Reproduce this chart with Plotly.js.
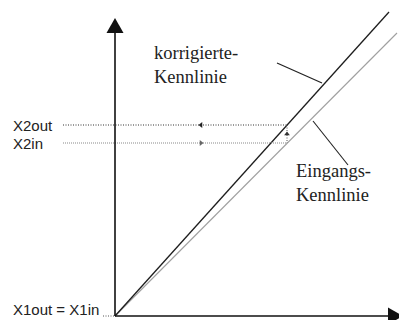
<!DOCTYPE html>
<html>
<head>
<meta charset="utf-8">
<script src="https://cdn.plot.ly/plotly-3.0.1.min.js"></script>
<style>html,body{margin:0;padding:0;background:#fff;}#chart{width:399px;height:320px;}</style>
</head>
<body>
<div id="chart"></div>
<script>
// Input characteristic (Eingangs-Kennlinie)
const eingangX = [0, 282];
const eingangY = [0, 283];
// Corrected characteristic (korrigierte Kennlinie)
const korrX = [0, 274];
const korrY = [0, 304];
// Level labels on the y axis and their values
const levelLabels = ['X2out', 'X2in', 'X1out = X1in'];
const levelValues = [191, 173, 0];
const levelInputX = [172, 172, 0];
// Curve labels
const curveLabels = ['korrigierte-<br>Kennlinie', 'Eingangs-<br>Kennlinie'];

const AX_TOP = 298, AX_RIGHT = 288, HEAD = 15, HALF = 8.5;
const labelX = -104, dotStart = -52;

const traces = [
  {x: eingangX, y: eingangY, mode: 'lines', line: {color: '#a0a0a0', width: 1.1}, hoverinfo: 'skip'},
  {x: korrX, y: korrY, mode: 'lines', line: {color: '#1e1e1e', width: 1.3}, hoverinfo: 'skip'},
  // dotted guides
  {x: [dotStart, levelInputX[0]], y: [levelValues[0], levelValues[0]], mode: 'lines', line: {color: '#333', width: 1, dash: '1px,1.5px'}, hoverinfo: 'skip'},
  {x: [dotStart, levelInputX[1]], y: [levelValues[1], levelValues[1]], mode: 'lines', line: {color: '#8a8a8a', width: 1.2, dash: '1px,1px'}, hoverinfo: 'skip'},
  {x: [levelInputX[0], levelInputX[1]], y: [levelValues[0], levelValues[1]], mode: 'lines', line: {color: '#555', width: 1, dash: '1px,1.5px'}, hoverinfo: 'skip'},
  {x: [-12, 0], y: [levelValues[2], levelValues[2]], mode: 'lines', line: {color: '#555', width: 1, dash: '1px,1.5px'}, hoverinfo: 'skip'},
  // small arrowheads
  {x: [86, 86, levelInputX[0]], y: [levelValues[0], levelValues[1], (levelValues[0] + levelValues[1]) / 2],
   mode: 'markers', marker: {symbol: ['triangle-left', 'triangle-right', 'triangle-up'], size: 5, color: ['#222', '#666', '#333']}, hoverinfo: 'skip'}
];

const shapes = [
  // axes
  {type: 'line', x0: 0, y0: 0, x1: 0, y1: AX_TOP - HEAD, line: {color: '#111', width: 1.6}},
  {type: 'line', x0: 0, y0: 0, x1: AX_RIGHT - HEAD, y1: 0, line: {color: '#111', width: 1.6}},
  {type: 'path', path: `M ${-HALF},${AX_TOP - HEAD} L ${HALF},${AX_TOP - HEAD} L 0,${AX_TOP} Z`, fillcolor: '#111', line: {width: 0}},
  {type: 'path', path: `M ${AX_RIGHT - HEAD},${-HALF} L ${AX_RIGHT - HEAD},${HALF} L ${AX_RIGHT},0 Z`, fillcolor: '#111', line: {width: 0}},
  // leader lines
  {type: 'line', x0: 162, y0: 253, x1: 207, y1: 233, line: {color: '#222', width: 1.1}},
  {type: 'line', x0: 198, y0: 195, x1: 233, y1: 151, line: {color: '#222', width: 1.1}}
];

const sans = {family: 'Liberation Sans, Arial, sans-serif', size: 15, color: '#222'};
const serif = {family: 'Liberation Serif, Times New Roman, serif', size: 18.5, color: '#222'};

const annotations = levelLabels.map((t, i) => ({
  x: labelX, y: i === 2 ? -3.5 : levelValues[i], xref: 'x', yref: 'y', text: t, showarrow: false,
  xanchor: 'left', yanchor: i === 2 ? 'bottom' : 'middle', font: sans
})).concat([
  {x: 37, y: 275, xref: 'x', yref: 'y', text: curveLabels[0], showarrow: false, xanchor: 'left', yanchor: 'top', align: 'left', font: serif},
  {x: 179, y: 157, xref: 'x', yref: 'y', text: curveLabels[1], showarrow: false, xanchor: 'left', yanchor: 'top', align: 'left', font: serif}
]);

const layout = {
  width: 399, height: 320,
  margin: {l: 0, r: 0, t: 0, b: 0, pad: 0},
  paper_bgcolor: '#fff', plot_bgcolor: '#fff',
  showlegend: false,
  xaxis: {range: [-115, 284], visible: false, fixedrange: true},
  yaxis: {range: [-4, 316], visible: false, fixedrange: true},
  shapes: shapes,
  annotations: annotations
};

Plotly.newPlot('chart', traces, layout, {staticPlot: true, displayModeBar: false});
</script>
</body>
</html>
